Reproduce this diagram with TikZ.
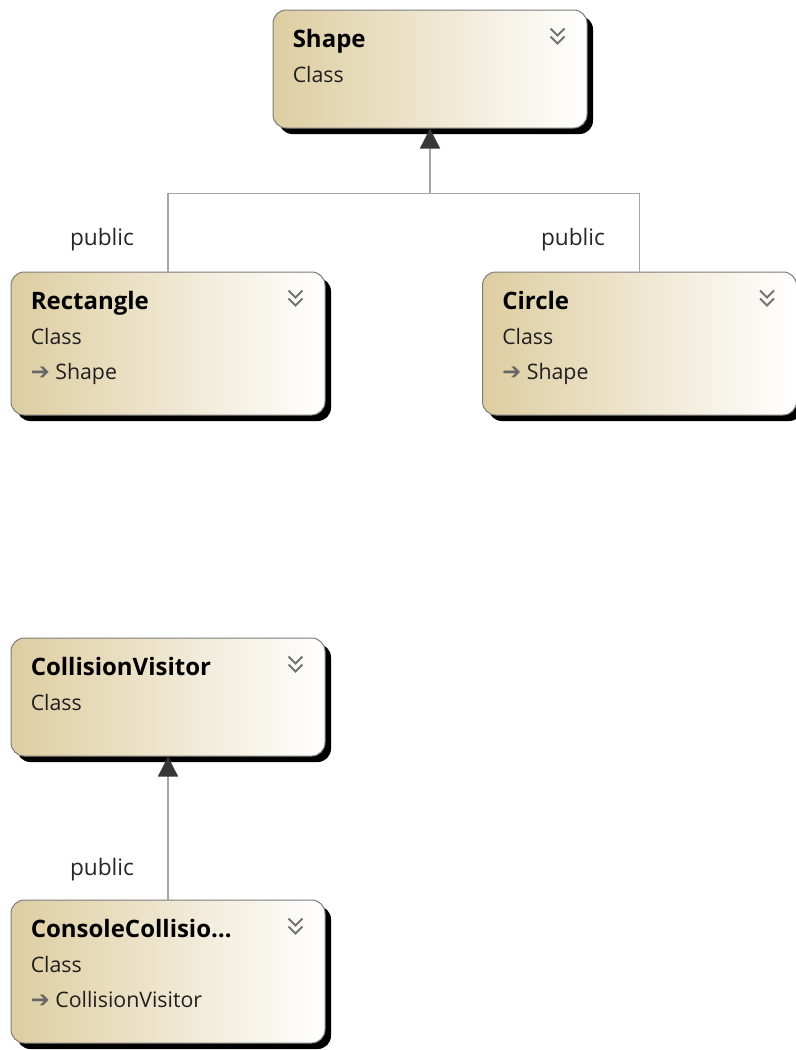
\documentclass[tikz,border=0pt]{standalone}
\usepackage{fontspec}
\setmainfont{Open Sans}
\newfontfamily\symfont{DejaVu Sans}
\usetikzlibrary{arrows.meta,shadows,calc}

\definecolor{classtan}{RGB}{221,205,160}
\definecolor{edgegray}{RGB}{125,125,125}
\definecolor{linegray}{RGB}{165,165,165}
\definecolor{headgray}{RGB}{55,55,55}

\newcommand\basearrow{{\symfont\fontsize{17}{19}\selectfont\color{black!60}➔}\ }

\tikzset{
  classbox/.style={draw=edgegray, line width=0.75pt, rounded corners=10pt,
    left color=classtan, right color=white, inner sep=0pt,
    minimum width=235.5pt, minimum height=#1,
    general shadow={fill=black, shadow xshift=4.5pt, shadow yshift=-4.5pt}},
  classbox/.default=88.5pt,
  title/.style={anchor=base west, inner sep=0pt, font=\bfseries\fontsize{18}{21}\selectfont},
  kind/.style={anchor=base west, inner sep=0pt, text=black!88, font=\fontsize{16}{19}\selectfont},
  lbl/.style={inner sep=0pt, text=black!85, font=\fontsize{17}{20}\selectfont},
  chevron/.style={draw=black!55, line width=1.4pt},
  inherit/.style={draw=linegray, line width=1pt,
    -{Triangle[length=15pt, width=15pt, color=headgray]}},
  link/.style={draw=linegray, line width=1pt}
}

% two small down chevrons in the corner of a box
\newcommand\chevs[1]{
  \draw[chevron] ($(#1.north east)+(-37,19)$) -- ++(7,7) -- ++(7,-7);
  \draw[chevron] ($(#1.north east)+(-37,27)$) -- ++(7,7) -- ++(7,-7);
}

\begin{document}
\begin{tikzpicture}[x=0.75pt, y=-0.75pt]
\useasboundingbox (0,0) rectangle (796,1050);

\node[classbox] (shape) at (430,69) {};
\node[classbox=107.25pt] (rect) at (168,343.5) {};
\node[classbox=107.25pt] (circ) at (639.5,343.5) {};
\node[classbox] (visitor) at (168,697) {};
\node[classbox=107.25pt] (cons) at (168,971.5) {};

\node[title] (shapename) at ($(shape.north west)+(20,38)$) {Shape};
\node[kind] (shapekind) at ($(shape.north west)+(20,73)$) {Class};
\chevs{shape}

\node[title] (rectname) at ($(rect.north west)+(20,38)$) {Rectangle};
\node[kind] (rectkind) at ($(rect.north west)+(20,73)$) {Class};
\node[kind] (rectbase) at ($(rect.north west)+(20,108)$) {\basearrow Shape};
\chevs{rect}

\node[title] (circname) at ($(circ.north west)+(20,38)$) {Circle};
\node[kind] (circkind) at ($(circ.north west)+(20,73)$) {Class};
\node[kind] (circbase) at ($(circ.north west)+(20,108)$) {\basearrow Shape};
\chevs{circ}

\node[title] (visitorname) at ($(visitor.north west)+(20,38)$) {CollisionVisitor};
\node[kind] (visitorkind) at ($(visitor.north west)+(20,73)$) {Class};
\chevs{visitor}

\node[title] (consname) at ($(cons.north west)+(20,38)$) {ConsoleCollisio…};
\node[kind] (conskind) at ($(cons.north west)+(20,73)$) {Class};
\node[kind] (consbase) at ($(cons.north west)+(20,108)$) {\basearrow CollisionVisitor};
\chevs{cons}

\coordinate (join) at ($(shape.south)+(0,65)$);
\draw[link] (circ.north) |- (join);
\draw[inherit] (rect.north) |- (join) -- (shape.south);
\draw[inherit] (cons.north) -- (visitor.south);

\node[lbl] (pubrect) at (102,240) {public};
\node[lbl] (pubcirc) at (573,240) {public};
\node[lbl] (pubcons) at (102,870) {public};
\end{tikzpicture}
\end{document}
